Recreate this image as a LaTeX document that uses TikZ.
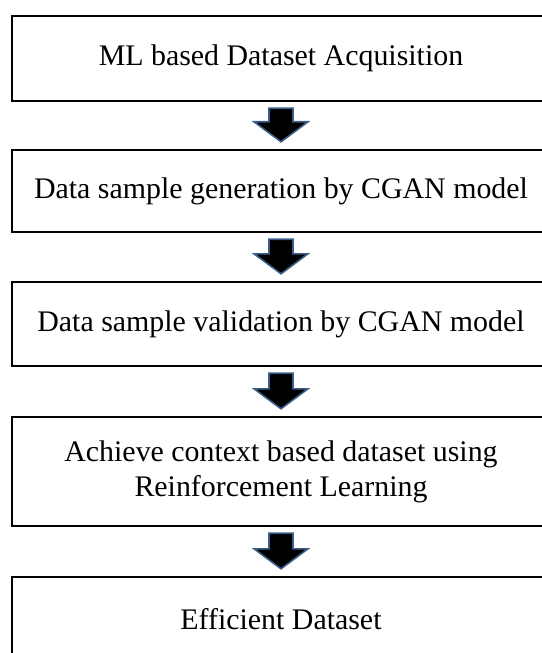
\documentclass[tikz,border=0pt]{standalone}
\usepackage{fontspec}
\setmainfont{Liberation Serif}
\usetikzlibrary{calc}
\definecolor{arrowedge}{HTML}{3B5E88}
\tikzset{
  stagebox/.style={draw=black, line width=2.4bp, fill=white, minimum width=538bp,
    align=center, inner sep=0pt, font=\fontsize{30}{35}\selectfont},
  blockarr/.style={fill=black, draw=arrowedge, line width=1.6bp, line join=miter}
}
\newcommand{\blockarrow}[2]{%
  \path (#1.south) ++(0,6) coordinate (tA#1);
  \path (#2.north) ++(0,-7) coordinate (tB#1);
  \filldraw[blockarr] ($(tA#1)+(-12,0)$) -- ($(tA#1)+(12,0)$) -- ($(tB#1)+(12,-20)$)
    -- ($(tB#1)+(27,-20)$) -- (tB#1) -- ($(tB#1)+(-27,-20)$) -- ($(tB#1)+(-12,-20)$) -- cycle;
}
\begin{document}
\begin{tikzpicture}[x=1bp,y=-1bp]
\useasboundingbox (0,0) rectangle (542,653);
\clip (0,0) rectangle (542,653);
\node[stagebox, minimum height=85bp] (b1) at (281,58.5) {ML based Dataset Acquisition};
\node[stagebox, minimum height=82bp] (b2) at (281,191) {Data sample generation by CGAN model};
\node[stagebox, minimum height=84bp] (b3) at (281,324) {Data sample validation by CGAN model};
\node[stagebox, minimum height=109bp] (b4) at (281,471.5) {Achieve context based dataset using\\Reinforcement Learning};
\node[stagebox, minimum height=85bp] (b5) at (281,619.5) {Efficient Dataset};
\blockarrow{b1}{b2}
\blockarrow{b2}{b3}
\blockarrow{b3}{b4}
\blockarrow{b4}{b5}
\end{tikzpicture}
\end{document}
